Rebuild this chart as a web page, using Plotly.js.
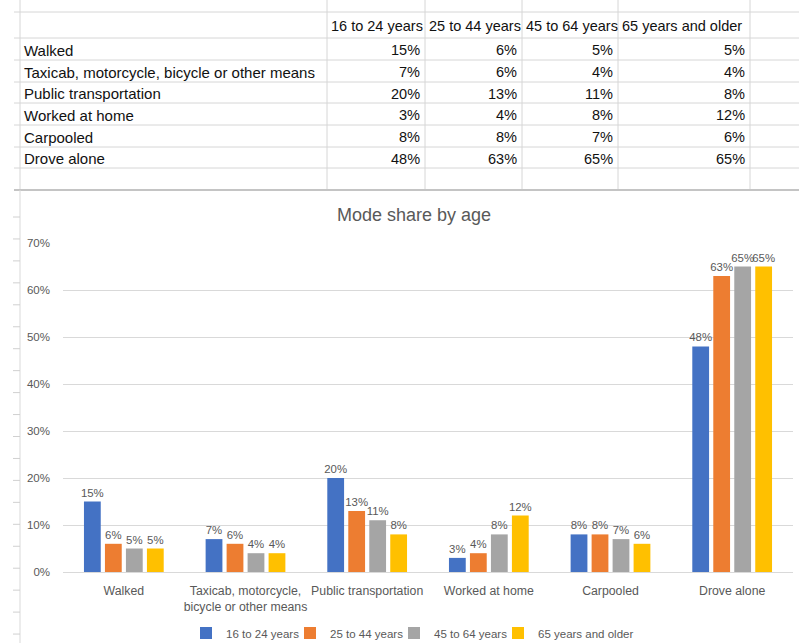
<!DOCTYPE html>
<html>
<head>
<meta charset="utf-8">
<script src="https://cdn.plot.ly/plotly-3.0.1.min.js"></script>
<style>html,body{margin:0;padding:0;background:#fff;}#chart{width:799px;height:643px;}</style>
</head>
<body>
<div id="chart"></div>
<script>
// ---- data ----
const modes = ['Walked', 'Taxicab, motorcycle, bicycle or other means', 'Public transportation', 'Worked at home', 'Carpooled', 'Drove alone'];
const axisLabels = ['Walked', 'Taxicab, motorcycle,<br>bicycle or other means', 'Public transportation', 'Worked at home', 'Carpooled', 'Drove alone'];
const ageGroups = ['16 to 24 years', '25 to 44 years', '45 to 64 years', '65 years and older'];
const age16to24 = [0.15, 0.07, 0.20, 0.03, 0.08, 0.48];
const age25to44 = [0.06, 0.06, 0.13, 0.04, 0.08, 0.63];
const age45to64 = [0.05, 0.04, 0.11, 0.08, 0.07, 0.65];
const age65plus = [0.05, 0.04, 0.08, 0.12, 0.06, 0.65];
const chartTitle = 'Mode share by age';
const yTickVals = [0, 0.1, 0.2, 0.3, 0.4, 0.5, 0.6, 0.7];

// ---- styles ----
const seriesValues = [age16to24, age25to44, age45to64, age65plus];
const colors = ['#4472C4', '#ED7D31', '#A5A5A5', '#FFC000'];
const legendIds = ['legend', 'legend2', 'legend3', 'legend4'];
const legendLeft = [186, 290, 394, 498];
const W = 799, H = 643;
const px = x => x / W;
const py = y => 1 - y / H;
const grey = '#595959';
const fontFam = '"Liberation Sans", Arial, sans-serif';

const traces = seriesValues.map((vals, i) => ({
  type: 'bar',
  name: ageGroups[i],
  x: modes,
  y: vals,
  marker: {color: colors[i]},
  texttemplate: '%{y:.0%}',
  textposition: 'outside',
  constraintext: 'none',
  cliponaxis: false,
  textfont: {size: 11.4, color: grey, family: fontFam},
  legend: legendIds[i],
  hoverinfo: 'skip'
}));

// ---- spreadsheet table (shapes + annotations) ----
const shapes = [];
const annotations = [];
const gridCol = '#d6d6d6';
const colEdges = [20, 327, 425, 522, 618, 750];
const rowEdges = [12, 38, 60, 82, 103, 125, 147, 168];
rowEdges.forEach(y => shapes.push({type: 'line', xref: 'paper', yref: 'paper', x0: px(14), x1: px(799), y0: py(y), y1: py(y), line: {color: gridCol, width: 1}}));
colEdges.forEach(x => shapes.push({type: 'line', xref: 'paper', yref: 'paper', x0: px(x), x1: px(x), y0: py(0), y1: py(190), line: {color: gridCol, width: 1}}));
// chart area border
shapes.push({type: 'line', xref: 'paper', yref: 'paper', x0: px(14), x1: px(799), y0: py(190), y1: py(190), line: {color: '#c4c4c4', width: 2}});
shapes.push({type: 'line', xref: 'paper', yref: 'paper', x0: px(20), x1: px(20), y0: py(190), y1: py(643), line: {color: '#d9d9d9', width: 1}});
// spreadsheet row markers peeking left of the chart
for (let y = 217; y < 643; y += 21.95) {
  shapes.push({type: 'line', xref: 'paper', yref: 'paper', x0: px(13), x1: px(20), y0: py(y), y1: py(y), line: {color: '#d0d0d0', width: 1}});
}

const tableFont = {family: fontFam, size: 14.5, color: '#111111'};
// header
ageGroups.forEach((g, j) => annotations.push({text: g, xref: 'paper', yref: 'paper', x: px(colEdges[j + 1] + 2), y: py(26), xanchor: 'left', yanchor: 'middle', showarrow: false, font: tableFont}));
// rows
modes.forEach((m, i) => {
  const yc = (rowEdges[i + 1] + rowEdges[i + 2]) / 2 + 1;
  annotations.push({text: m, xref: 'paper', yref: 'paper', x: px(22), y: py(yc), xanchor: 'left', yanchor: 'middle', showarrow: false, font: Object.assign({}, tableFont, {size: 15})});
  seriesValues.forEach((vals, j) => {
    annotations.push({text: Math.round(vals[i] * 100) + '%', xref: 'paper', yref: 'paper', x: px(colEdges[j + 2] - 3), y: py(yc), xanchor: 'right', yanchor: 'middle', showarrow: false, font: tableFont});
  });
});
// chart title
annotations.push({text: chartTitle, xref: 'paper', yref: 'paper', x: px(414), y: py(215), xanchor: 'center', yanchor: 'middle', showarrow: false, font: {family: fontFam, size: 18, color: grey}});

const layout = {
  width: W, height: H,
  margin: {l: 0, r: 0, t: 0, b: 0, autoexpand: false},
  paper_bgcolor: '#ffffff',
  plot_bgcolor: '#ffffff',
  font: {family: fontFam, color: grey},
  barmode: 'group',
  bargap: 0.31,
  bargroupgap: 0.2,
  showlegend: true,
  xaxis: {
    domain: [px(63), px(793)],
    anchor: 'y',
    tickmode: 'array',
    tickvals: modes,
    ticktext: axisLabels,
    tickfont: {size: 12.3, color: grey, family: fontFam},
    ticklabelstandoff: 7,
    showgrid: false,
    showline: true,
    linecolor: '#d9d9d9',
    linewidth: 1,
    ticks: '',
    automargin: false,
    fixedrange: true
  },
  yaxis: {
    domain: [py(572), py(243)],
    range: [0, 0.7],
    tickmode: 'array',
    tickvals: yTickVals,
    tickformat: '.0%',
    tickfont: {size: 11.5, color: grey, family: fontFam},
    ticklabelstandoff: 12,
    gridcolor: '#d9d9d9',
    gridwidth: 1,
    zeroline: false,
    showline: false,
    ticks: '',
    automargin: false,
    fixedrange: true
  },
  shapes: shapes,
  annotations: annotations
};
legendIds.forEach((id, i) => {
  layout[id] = {
    orientation: 'h',
    x: px(legendLeft[i]), xanchor: 'left',
    y: py(633), yanchor: 'middle',
    font: {size: 11.5, color: grey, family: fontFam},
    bgcolor: 'rgba(0,0,0,0)'
  };
});

Plotly.newPlot('chart', traces, layout, {displayModeBar: false, staticPlot: true});
</script>
</body>
</html>
